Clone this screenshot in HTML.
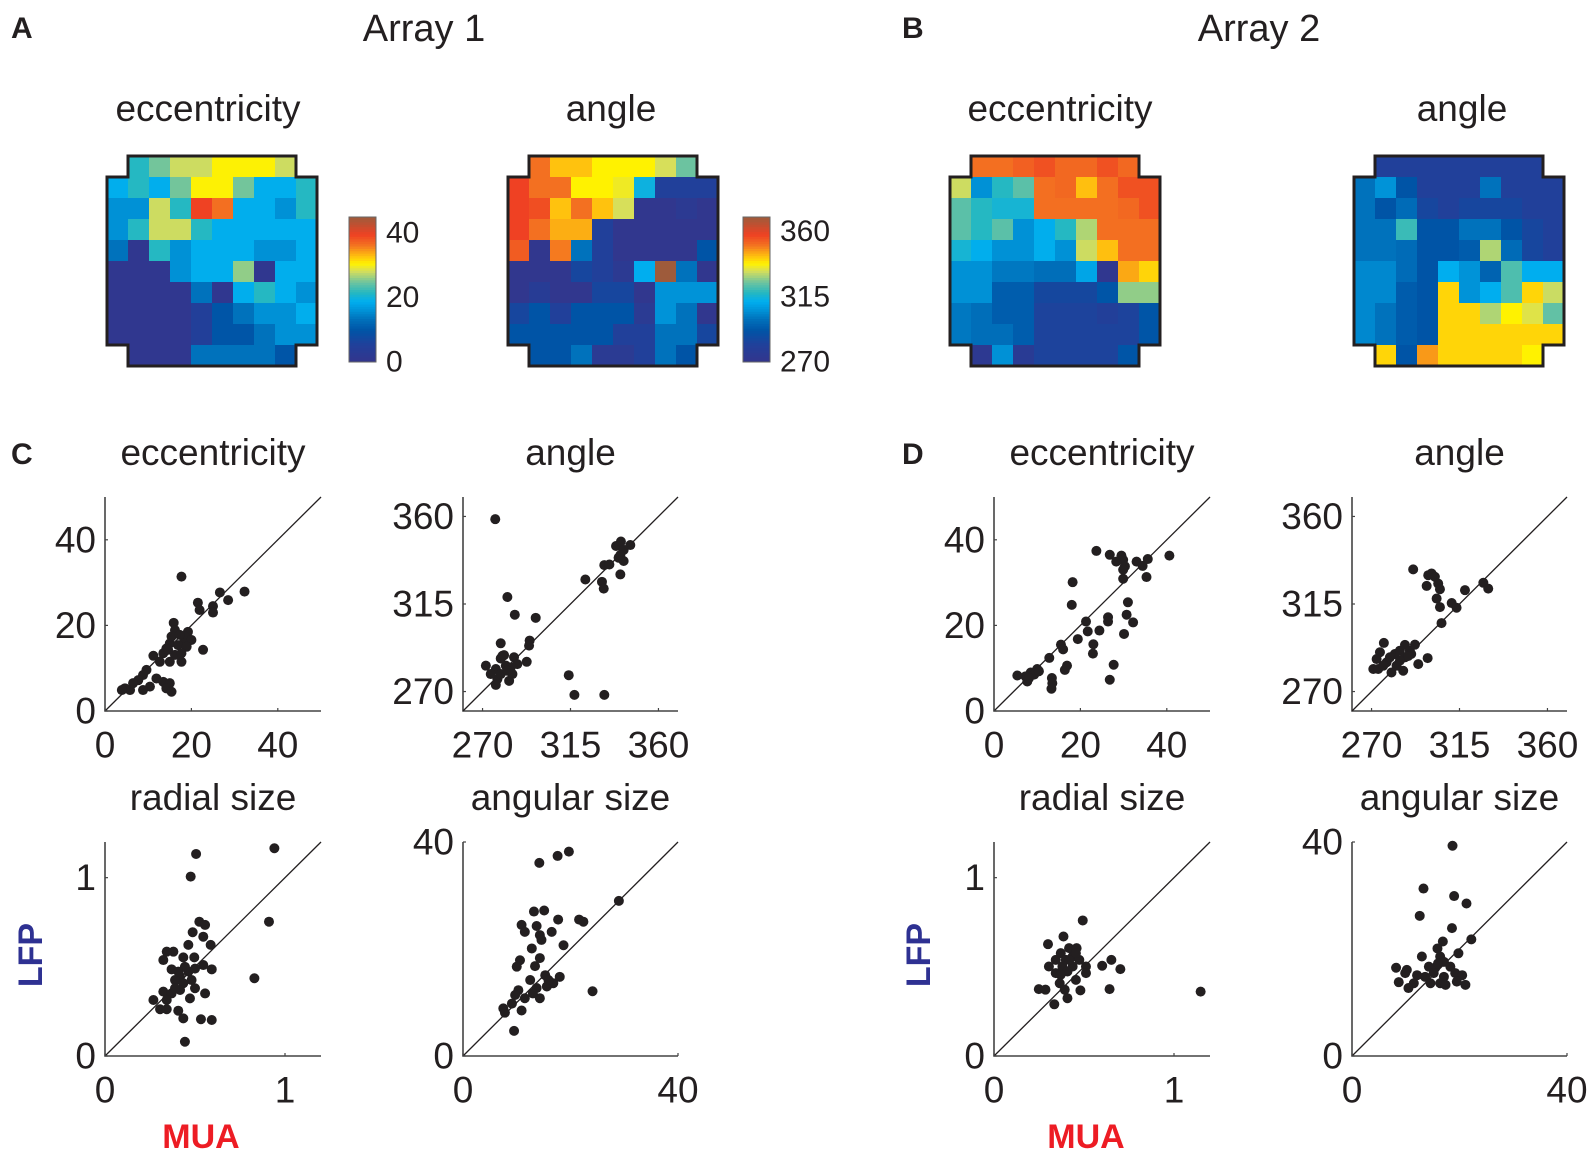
<!DOCTYPE html>
<html><head><meta charset="utf-8"><style>
html,body{margin:0;padding:0;background:#fff;}
svg text{font-family:"Liberation Sans",sans-serif;fill:#231f20;}
</style></head><body>
<svg id="fig" xmlns="http://www.w3.org/2000/svg" width="1594" height="1160" viewBox="0 0 1594 1160">
<g id="static">
<text x="11" y="38" font-size="30" font-weight="bold">A</text>
<text x="902" y="38" font-size="30" font-weight="bold">B</text>
<text x="11" y="464" font-size="30" font-weight="bold">C</text>
<text x="902" y="464" font-size="30" font-weight="bold">D</text>
<text x="424" y="41" font-size="38" text-anchor="middle">Array 1</text>
<text x="1259" y="41" font-size="38" text-anchor="middle">Array 2</text>
<text transform="translate(42,955) rotate(-90)" font-size="34" font-weight="bold" text-anchor="middle" style="fill:#2e3192">LFP</text>
<text transform="translate(930,955) rotate(-90)" font-size="34" font-weight="bold" text-anchor="middle" style="fill:#2e3192">LFP</text>
<text x="201" y="1148" font-size="34" font-weight="bold" text-anchor="middle" style="fill:#ed1c24">MUA</text>
<text x="1086" y="1148" font-size="34" font-weight="bold" text-anchor="middle" style="fill:#ed1c24">MUA</text>
</g>
</svg>
<script>
// ---------- heatmap data ----------
const a1Ecc = [
[null,21.5,25,28,28,30.5,30.5,30.5,28,null],
[19,21.5,19,25,30.5,30.5,25,19,19,21.5],
[16,16,28,21.5,39.5,36.5,19,19,16,21.5],
[16,21.5,28,28,21.5,19,19,19,19,19],
[13.5,1,21.5,16,19,19,19,16,16,19],
[1,1,1,16,19,19,26,1,19,19],
[1,1,1,1,13.5,1,19,21.5,19,16],
[1,1,1,1,5,10,13.5,16,16,19],
[1,1,1,1,5,10,10,13.5,16,16],
[null,1,1,1,13.5,13.5,13.5,13.5,10,null]];
const a1Angle = [
[null,351,343,343,338,338,338,333,325,null],
[358,351,351,338,338,336,314,282,282,282],
[358,356,343,351,343,333,272,272,275,272],
[358,351,345,345,282,272,272,272,272,272],
[354,272,350,300,282,272,272,272,272,292],
[272,272,272,285,282,275,312,370,300,272],
[272,278,272,272,285,285,272,306,306,306],
[285,292,282,292,292,292,276,306,300,272],
[292,292,292,292,292,282,282,300,300,285],
[null,292,292,300,276,276,282,300,292,null]];
const a2Ecc = [
[null,36.5,36.5,37.5,38.5,37,37,38.5,37,null],
[28,16,21.5,24,36.5,37,33,36.5,38.5,38.5],
[24,21.5,20.5,20.5,36.5,36.5,36.5,36.5,37,38.5],
[24,21.5,24,16,19,21.5,27,36.5,36.5,36.5],
[20.5,19,16,16,19,16,28,33,36.5,36.5],
[16,16,14,14,13,13,18,1,34,32],
[16,16,11,11,7,7,7,10,26,26],
[14,13,11,11,6,6,6,5,6,10],
[14,13,13,11,6,6,6,6,6,10],
[null,2,16,3,6,6,6,6,10,null]];
const a2Angle = [
[null,282,282,282,282,282,282,282,282,null],
[300,306,292,282,282,282,300,282,282,282],
[300,292,298,285,282,285,285,285,282,282],
[300,300,320,292,292,300,300,292,285,282],
[300,300,298,292,292,294,330,298,285,282],
[304,304,298,292,312,306,296,322,312,312],
[304,304,294,292,341,306,312,322,341,332],
[304,300,294,292,341,341,330,338,334,324],
[304,300,294,292,341,341,341,341,341,341],
[null,341,292,347,341,341,341,341,338,null]];
const eccRange = [0,45];
const angleRange = [270,370];
const eccBarTicks = [0,20,40];
const angleBarTicks = [270,315,360];

// ---------- scatter data ----------
const cEccX = [17.7,26.6,32.3,28.5,21.5,25,21.9,25,15.9,16.2,19.2,18.5,20,15,18.1,16.9,14.2,18.9,13.5,16.2,22.7,11.2,17.7,15,12.7,9.6,8.8,7.7,11.9,13.5,15,14.2,15.4,10.4,8.8,5.8,4.6,3.9,6.5,15.4,17.3,14.6,17.7];
const cEccY = [31.4,27.7,27.9,25.9,25.3,24.5,23.6,23,20.6,18.9,18.5,17.4,16.6,15.8,15.8,15.4,14.6,15,13.5,13.1,14.3,12.9,11.5,11.5,11.5,9.6,8.4,7.2,7.6,6.8,6.5,5.3,4.5,5.7,4.9,4.9,5.3,4.9,6.5,17.4,17.8,14.3,13.5];
const cAngX = [276.5,282.7,286.5,297.2,279.3,294.1,293.8,292.6,280.2,286.1,281.9,271.7,276.8,284.4,287.8,277.6,276.8,283.6,279.3,285.3,274.2,314.1,317,332.3,322.6,331.1,332,332.3,334.9,340.5,339.6,342.2,338.3,340.8,345.6,342.2,340.5,279.3,282.7,281];
const cAngY = [358.6,318.6,309.5,307.9,294.8,296.2,293.6,285.3,288.4,287.6,283.3,283.3,281.6,282.4,284.1,276.4,273.4,275.5,279,279,279,278.4,268.3,268.3,327.6,326.4,322.9,335,335.3,330.2,338.8,337.1,344.8,347.1,345.3,342.8,340.2,287,280.7,288.7];
const cRadX = [0.506,0.941,0.476,0.911,0.83,0.524,0.556,0.487,0.546,0.587,0.463,0.343,0.38,0.324,0.435,0.496,0.546,0.593,0.37,0.463,0.417,0.389,0.435,0.481,0.324,0.269,0.37,0.417,0.5,0.556,0.472,0.343,0.306,0.343,0.407,0.435,0.533,0.593,0.444,0.444,0.407,0.5,0.389];
const cRadY = [1.133,1.165,1.006,0.753,0.436,0.753,0.735,0.694,0.669,0.623,0.623,0.585,0.585,0.538,0.553,0.553,0.51,0.486,0.486,0.473,0.445,0.426,0.408,0.426,0.361,0.314,0.351,0.37,0.38,0.351,0.323,0.314,0.262,0.262,0.254,0.211,0.206,0.202,0.08,0.5,0.473,0.49,0.38];
const cAngSzX = [14.2,17.6,19.7,29,13.2,15.1,17.7,21.6,22.4,10.9,13.7,11.5,16.5,14.3,14.6,18.7,12.8,10.6,10,14.3,13.4,12.5,15.3,18,16.8,13.7,10.3,9.7,11.5,14.3,9.1,7.5,7.8,10.9,24.1,9.5,15.6,13,15.9];
const cAngSzY = [36.1,37.4,38.2,29,27,27.2,25.5,25.5,25.1,24.5,24.3,23.2,23.2,22.6,21.7,20.7,20.1,17.9,16.7,18.3,16.8,14.2,15.1,14.8,13.6,12.7,12.3,11.4,10.8,10.8,9.8,8.9,8.1,8.5,12.1,4.7,13,11.7,14.2];
const dEccX = [23.7,26.8,29.5,29.9,28.3,30.3,29.9,33,34.4,35.6,40.6,35.3,29.9,18.2,18,31,30.7,32.2,26.4,26.4,21.3,21.7,24.4,30.1,19.4,23,22.9,15.5,16,12.8,16.9,16.4,27.7,26.8,13.4,13.5,13.3,10,8.5,7.3,5.4,7.7,9.3,8.1,10.4];
const dEccY = [37.4,36.5,36.3,35.3,34.9,33.8,33,34.9,33.9,35.5,36.3,31.3,30.9,30.1,24.8,25.4,22.5,20.7,21.9,20.9,20.9,18.6,18.8,18,16.8,15.6,13.4,15.5,14.4,12.4,10.6,9.6,10.8,7.3,7.7,6.5,5.2,9.8,9,8.1,8.3,6.9,8.5,7.7,9.3];
const dAngX = [291.3,299,300.7,302.4,304.1,298.2,305,303.3,305,311,313.5,317.8,327.2,329.7,305.8,276.3,274.3,272.6,270.9,273.4,280.2,286.2,282.8,281.9,284.5,287.1,289.6,292.2,290.3,287.1,277.7,279.4,284.5,293.9,298.7,276,288.8];
const dAngY = [332.8,329.8,330.7,329,325.5,324.3,322.6,317.8,313.4,315.5,313.1,322.1,325.9,322.9,305.2,295,290.2,286.7,281.6,281.6,279.8,280.7,283.3,289.3,291,294,291,294.1,289.3,287.6,285,287.6,285.9,284.1,287.2,283.3,288.3];
const dRadX = [0.493,0.386,0.3,0.417,0.459,0.371,0.437,0.343,0.399,0.474,0.305,0.511,0.38,0.437,0.343,0.408,0.511,0.455,0.601,0.652,0.702,0.365,0.249,0.286,0.393,0.48,0.642,0.408,0.335,1.148,0.418,0.455,0.37];
const dRadY = [0.76,0.67,0.627,0.605,0.605,0.577,0.558,0.539,0.539,0.539,0.502,0.502,0.502,0.502,0.465,0.474,0.465,0.427,0.506,0.539,0.487,0.408,0.375,0.372,0.372,0.368,0.375,0.324,0.29,0.361,0.539,0.577,0.455];
const dAngSzX = [18.7,13.3,19,21.3,12.6,18.6,22.2,16.9,15.9,19.8,13,16.4,17.1,8.2,10.2,14.3,15.5,18.3,19.2,20.5,9.9,12.1,13.6,17.1,15.2,8.7,11.5,14.6,16.4,19.5,21.1,10.5,17.4,16];
const dAngSzY = [39.3,31.3,29.9,28.5,26.2,23.9,21.8,21.4,20.1,19.2,18.6,18.6,17.6,16.5,16.1,16.7,16.5,16.7,15.5,15.1,15.5,15.1,14.8,14.8,15.5,13.8,13.6,13.6,13.6,13.9,13.3,12.7,13.3,17.3];
const cEccTicks = [0,20,40];
const cAngTicks = [270,315,360];
const radTicks = [0,1];
const angSzTicks = [0,40];

// ---------- drawing ----------
const NS = "http://www.w3.org/2000/svg";
const svg = document.getElementById('fig');
function mk(tag, attrs, parent){ const e=document.createElementNS(NS,tag); for(const k in attrs) e.setAttribute(k,attrs[k]); (parent||svg).appendChild(e); return e; }
const stops = [[0,[52,53,140]],[0.12,[33,64,154]],[0.22,[0,84,166]],[0.30,[0,114,188]],[0.36,[0,147,216]],[0.42,[0,174,239]],[0.48,[38,184,192]],[0.55,[108,195,160]],[0.63,[215,223,90]],[0.68,[255,242,0]],[0.73,[255,194,14]],[0.81,[243,112,33]],[0.88,[239,65,35]],[1,[158,91,59]]];
function cmap(t){ t=Math.max(0,Math.min(1,t)); for(let i=1;i<stops.length;i++){ if(t<=stops[i][0]){ const a=stops[i-1],b=stops[i],f=(t-a[0])/(b[0]-a[0]); const c=a[1].map((v,j)=>Math.round(v+(b[1][j]-v)*f)); return `rgb(${c[0]},${c[1]},${c[2]})`; } } return 'rgb(158,91,59)'; }

function heatmap(name, data, range, x0, y0, s){
  const g = mk('g',{});
  
  
  data.forEach((row,r)=>row.forEach((v,c)=>{
    if(v===null) return;
    const rect = mk('rect',{x:x0+c*s,y:y0+r*s,width:s+0.6,height:s+0.6,fill:cmap((v-range[0])/(range[1]-range[0]))},g);
    
    
  }));
  const p=`M${x0+s},${y0} H${x0+9*s} V${y0+s} H${x0+10*s} V${y0+9*s} H${x0+9*s} V${y0+10*s} H${x0+s} V${y0+9*s} H${x0} V${y0+s} H${x0+s} Z`;
  const o = mk('path',{d:p,fill:'none',stroke:'#231f20','stroke-width':3},g);
  
  
}
function colorbar(name, range, ticks, x, yTop, yBot, w){
  const g = mk('g',{});
  
  
  const n=60, h=(yBot-yTop)/n;
  for(let i=0;i<n;i++){ mk('rect',{x:x,y:yBot-(i+1)*h,width:w,height:h+0.5,fill:cmap((i+0.5)/n)},g); }
  mk('rect',{x:x,y:yTop,width:w,height:yBot-yTop,fill:'none',stroke:'#666','stroke-width':1},g);
  ticks.forEach(t=>{
    const y=yBot-(t-range[0])/(range[1]-range[0])*(yBot-yTop);
    const tx = mk('text',{x:x+w+10,y:y,'font-size':30,'dominant-baseline':'central'},g);
    tx.textContent=t;
    
    
  });
}
heatmap('array1-eccentricity-map', a1Ecc, eccRange, 107, 156, 21);
heatmap('array1-angle-map', a1Angle, angleRange, 508, 156, 21);
heatmap('array2-eccentricity-map', a2Ecc, eccRange, 950, 156, 21);
heatmap('array2-angle-map', a2Angle, angleRange, 1354, 156, 21);
colorbar('eccentricity-colorbar', eccRange, eccBarTicks, 349, 217, 362, 27);
colorbar('angle-colorbar', angleRange, angleBarTicks, 743, 217, 362, 27);

function title(name, txt, x, y){ const t=mk('text',{x:x,y:y,'font-size':37,'text-anchor':'middle'}); t.textContent=txt;   }
title('map-title-ecc-1','eccentricity',208,121);
title('map-title-angle-1','angle',611,121);
title('map-title-ecc-2','eccentricity',1060,121);
title('map-title-angle-2','angle',1462,121);

function scatter(name, ttl, xs, ys, range, ticks, L, T, W, H){
  const g = mk('g',{});
  
  
  const sx=v=>L+(v-range[0])/(range[1]-range[0])*W;
  const sy=v=>T+H-(v-range[0])/(range[1]-range[0])*H;
  const t=mk('text',{x:L+W/2,y:T-32,'font-size':37,'text-anchor':'middle'},g);
  t.textContent=ttl;
  
  
  const ax=mk('path',{d:`M${L},${T} V${T+H} H${L+W}`,fill:'none',stroke:'#444','stroke-width':1.6},g);
  
  
  const dg=mk('line',{x1:sx(range[0]),y1:sy(range[0]),x2:sx(range[1]),y2:sy(range[1]),stroke:'#231f20','stroke-width':1.3},g);
  
  
  ticks.forEach(v=>{
    mk('line',{x1:sx(v),y1:T+H,x2:sx(v),y2:T+H-3,stroke:'#444','stroke-width':1.2},g);
    mk('line',{x1:L,y1:sy(v),x2:L+3,y2:sy(v),stroke:'#444','stroke-width':1.2},g);
    const xl=mk('text',{x:sx(v),y:T+H+34,'font-size':37,'text-anchor':'middle','dominant-baseline':'central'},g);
    xl.textContent=v;
    
    
    const yl=mk('text',{x:L-9,y:sy(v),'font-size':37,'text-anchor':'end','dominant-baseline':'central'},g);
    yl.textContent=v;
    
    
  });
  xs.forEach((v,i)=>{
    const c=mk('circle',{cx:sx(v),cy:sy(ys[i]),r:5,fill:'#231f20'},g);
    
    
  });
}
scatter('c-eccentricity-scatter','eccentricity',cEccX,cEccY,[0,50],cEccTicks,105,497,216,214);
scatter('c-angle-scatter','angle',cAngX,cAngY,[260,370],cAngTicks,463,497,215,214);
scatter('c-radial-size-scatter','radial size',cRadX,cRadY,[0,1.2],radTicks,105,842,216,214);
scatter('c-angular-size-scatter','angular size',cAngSzX,cAngSzY,[0,40],angSzTicks,463,842,215,214);
scatter('d-eccentricity-scatter','eccentricity',dEccX,dEccY,[0,50],cEccTicks,994,497,216,214);
scatter('d-angle-scatter','angle',dAngX,dAngY,[260,370],cAngTicks,1352,497,215,214);
scatter('d-radial-size-scatter','radial size',dRadX,dRadY,[0,1.2],radTicks,994,842,216,214);
scatter('d-angular-size-scatter','angular size',dAngSzX,dAngSzY,[0,40],angSzTicks,1352,842,215,214);
</script>
</body></html>
